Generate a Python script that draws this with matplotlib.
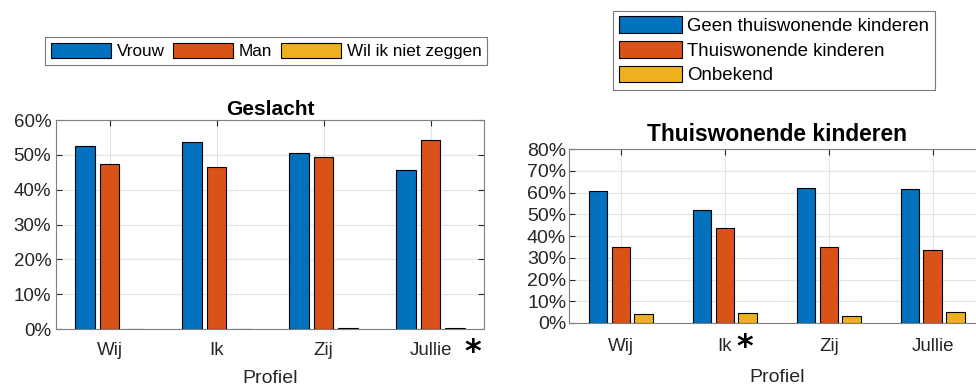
import numpy as np
import matplotlib
matplotlib.use("Agg")
import matplotlib.pyplot as plt
from matplotlib.ticker import PercentFormatter

# ── Data ─────────────────────────────────────────────────────
profielen = ["Wij", "Ik", "Zij", "Jullie"]

geslacht_labels = ["Vrouw", "Man", "Wil ik niet zeggen"]
vrouw = [52.5, 53.6, 50.7, 45.8]
man = [47.5, 46.4, 49.3, 54.2]
wil_niet = [0.0, 0.0, 0.2, 0.2]

kinderen_labels = ["Geen thuiswonende kinderen", "Thuiswonende kinderen", "Onbekend"]
geen_kinderen = [60.6, 51.8, 62.0, 61.5]
thuis_kinderen = [35.1, 43.5, 35.1, 33.8]
onbekend = [4.0, 4.6, 3.2, 4.9]

colors = ["#0072BD", "#D95319", "#EDB120"]
plt.rcParams["font.family"] = ["Liberation Sans", "DejaVu Sans"]
AX_COL = "#262626"


def grouped_bars(ax, series, offset, width):
    x = np.arange(1, len(profielen) + 1)
    handles = []
    for i, vals in enumerate(series):
        h = ax.bar(x + (i - 1) * offset, vals, width, color=colors[i],
                   edgecolor="black", linewidth=0.8, zorder=3)
        handles.append(h)
    ax.set_xlim(0.5, len(profielen) + 0.5)
    ax.set_xticks(x)
    ax.set_xticklabels(profielen)
    ax.grid(True, color="#e3e3e3", lw=0.8, zorder=0)
    ax.tick_params(direction="in", top=True, right=True, length=4,
                   colors=AX_COL, labelcolor=AX_COL, labelsize=13.5)
    ax.tick_params(axis="x", pad=9)
    for s in ax.spines.values():
        s.set_color("#7f7f7f")
        s.set_linewidth(0.8)
    ax.yaxis.set_major_formatter(PercentFormatter(decimals=0))
    ax.set_xlabel("Profiel", fontsize=14, color=AX_COL, labelpad=8)
    return handles


def star(ax, xpos, dy_pts):
    # significance marker next to a tick label
    ax.annotate("*", xy=(xpos, 0), xycoords=ax.get_xaxis_transform(),
                xytext=(0, dy_pts), textcoords="offset points",
                fontsize=23, fontweight="bold", ha="center", va="baseline",
                family="DejaVu Sans")


fig = plt.figure(figsize=(9.76, 3.89), dpi=100)

# ── Left: Geslacht ───────────────────────────────────────────
ax1 = fig.add_axes([0.0574, 0.1542, 0.4385, 0.537])
h1 = grouped_bars(ax1, [vrouw, man, wil_niet], 0.228, 0.185)
ax1.set_ylim(0, 60)
ax1.set_yticks(np.arange(0, 61, 10))
ax1.set_title("Geslacht", fontsize=15, fontweight="bold", pad=4)
star(ax1, 4.39, -23)
fig.legend(h1, geslacht_labels, loc="upper left", bbox_to_anchor=(0.046, 0.905),
           ncol=3, fontsize=12.3, frameon=True, fancybox=False,
           edgecolor="#595959", handlelength=3.5, handleheight=1.0,
           handletextpad=0.35, columnspacing=0.5, borderpad=0.35,
           borderaxespad=0).get_frame().set_linewidth(0.8)

# ── Right: Thuiswonende kinderen ─────────────────────────────
ax2 = fig.add_axes([0.583, 0.1697, 0.426, 0.447])
h2 = grouped_bars(ax2, [geen_kinderen, thuis_kinderen, onbekend], 0.22, 0.18)
ax2.set_ylim(0, 80)
ax2.set_yticks(np.arange(0, 81, 10))
ax2.tick_params(axis="y", pad=2, labelsize=14)
ax2.tick_params(axis="x", pad=11)
ax2.xaxis.labelpad = 10
ax2.set_title("Thuiswonende kinderen", fontsize=16.4, fontweight="bold", pad=6)
star(ax2, 2.19, -23.8)
fig.legend(h2, kinderen_labels, loc="upper left", bbox_to_anchor=(0.628, 0.972),
           ncol=1, fontsize=13.4, frameon=True, fancybox=False,
           edgecolor="#595959", handlelength=3.4, handleheight=1.0,
           handletextpad=0.3, labelspacing=0.32, borderpad=0.3,
           borderaxespad=0).get_frame().set_linewidth(0.8)

fig.savefig("out.png", dpi=100)
